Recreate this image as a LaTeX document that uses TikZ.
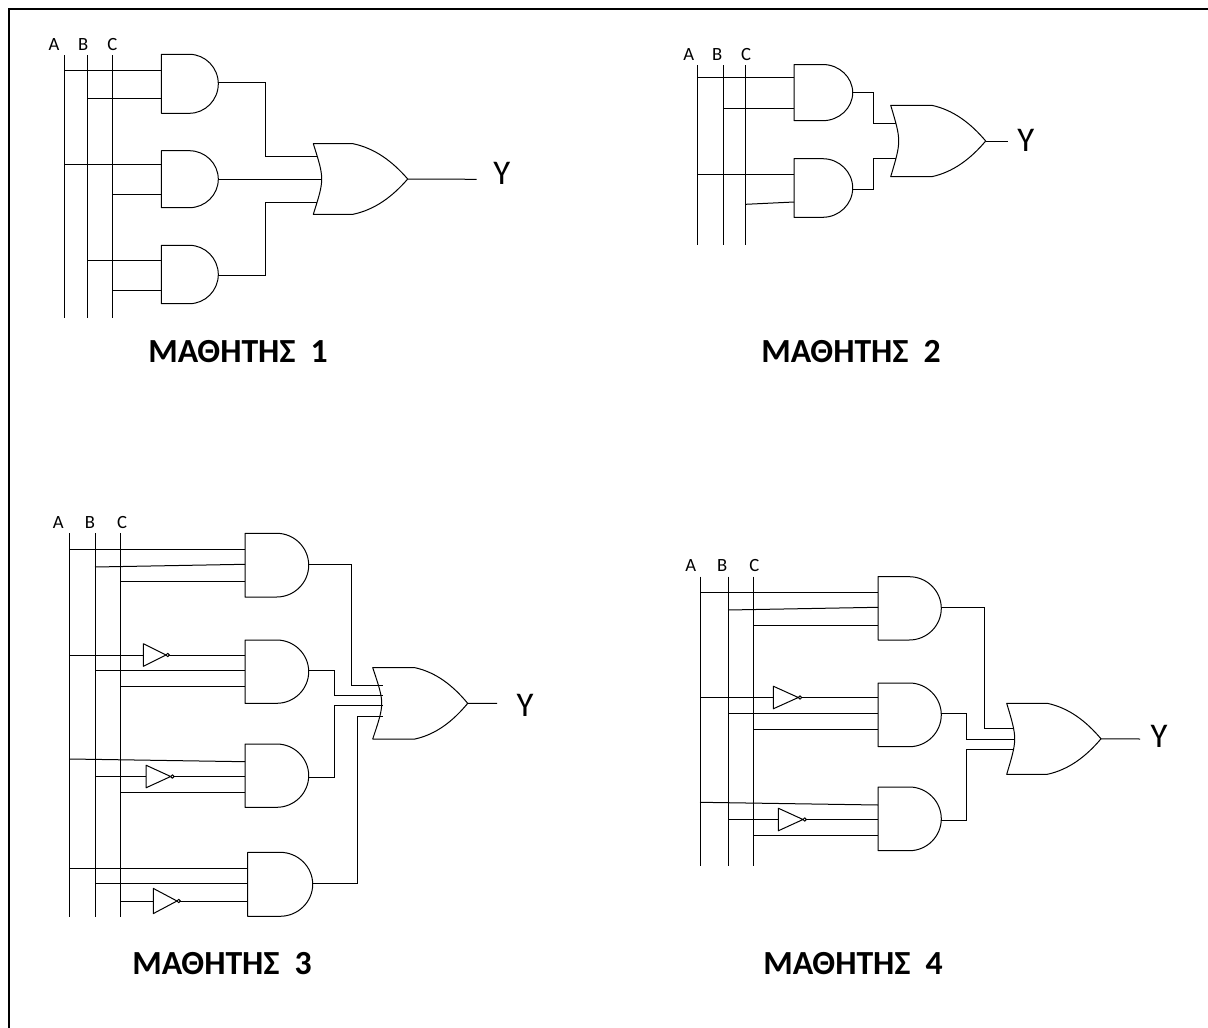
\documentclass[tikz,border=0pt]{standalone}
\usepackage{fontspec}
\setmainfont{Carlito}
\tikzset{
  wire/.style={line width=.75pt,draw=black},
  gate/.style={line width=.75pt,draw=black,fill=white,line join=round},
  buslabel/.style={anchor=base,inner sep=0pt,font=\fontsize{14}{16}\selectfont},
  outlabel/.style={anchor=center,inner sep=0pt,font=\fontsize{26}{30}\selectfont},
  title/.style={anchor=base west,inner sep=0pt,font=\fontsize{25.3}{30}\selectfont\bfseries},
}
\newcommand{\BusLine}[4]{% name,x,top,bottom
  \coordinate (#1-t) at (#2,#3);
  \coordinate (#1-b) at (#2,#4);
  \draw[wire] (#1-t) -- (#1-b);
}
\newcommand{\AndG}[6]{% name,xleft,top,bottom,xarc,xtip
  \pgfmathsetmacro\gM{(#3+#4)/2}
  \pgfmathsetmacro\gA{#5+.55*(#6-#5)}
  \pgfmathsetmacro\gB{\gM-.55*(\gM-#3)}
  \pgfmathsetmacro\gC{\gM+.55*(\gM-#3)}
  \draw[gate] (#2,#3) -- (#5,#3) .. controls (\gA,#3) and (#6,\gB) .. (#6,\gM)
    .. controls (#6,\gC) and (\gA,#4) .. (#5,#4) -- (#2,#4) -- cycle;
  \coordinate (#1-in) at (#2,\gM);
  \coordinate (#1-out) at (#6,\gM);
}
\newcommand{\OrG}[7]{% name,xback,top,bottom,xmid,xstraight,xtip
  \pgfmathsetmacro\gM{(#3+#4)/2}
  \pgfmathsetmacro\gH{(#4-#3)/2}
  \pgfmathsetmacro\gL{#7-#6}
  \pgfmathsetmacro\gC{#2+(#5-#2)/.75}
  \pgfmathsetmacro\gD{#6+.40*\gL}
  \pgfmathsetmacro\gE{#6+.72*\gL}
  \pgfmathsetmacro\gF{#3+.13*\gH}
  \pgfmathsetmacro\gG{#3+.5*\gH}
  \pgfmathsetmacro\gI{#4-.5*\gH}
  \pgfmathsetmacro\gJ{#4-.13*\gH}
  \draw[gate] (#2,#3) -- (#6,#3) .. controls (\gD,\gF) and (\gE,\gG) .. (#7,\gM)
    .. controls (\gE,\gI) and (\gD,\gJ) .. (#6,#4) -- (#2,#4)
    .. controls (\gC,\gM) .. (#2,#3) -- cycle;
  \coordinate (#1-tip) at (#7,\gM);
}
\newcommand{\InvG}[5]{% name,xleft,y,half height,xtip
  \pgfmathsetmacro\gA{#3-#4}
  \pgfmathsetmacro\gB{#3+#4}
  \pgfmathsetmacro\gC{#5+3.4}
  \draw[gate] (#2,\gA) -- (#5,#3) -- (#2,\gB) -- cycle;
  \draw[gate] (#5,#3) arc[start angle=180,end angle=-180,radius=1.7];
  \coordinate (#1-in) at (#2,#3);
  \coordinate (#1-out) at (\gC,#3);
}
\newcommand{\Inp}[4]{\draw[wire] (#1-t |- 0,#3) -- (#2-in |- 0,#4);}
\newcommand{\InvIn}[3]{% bus,inverter,gate
  \draw[wire] (#1-t |- #2-in) -- (#2-in);
  \draw[wire] (#2-out) -- (#3-in |- #2-out);
}
\newcommand{\Outp}[5]{% gate,y out,x jog,y in,or back
  \draw[wire] (#1-out |- 0,#2) -- (#3,#2) -- (#3,#4) -- (#5 |- 0,#4);
}
\begin{document}
\begin{tikzpicture}[x=.75pt,y=-.75pt]
\useasboundingbox (0,0) rectangle (1208,1028);
\draw[line width=1pt] (9,1028) -- (9,9) -- (1208,9);

% --- 1 ---
\node[buslabel] (a1) at (54,50.7) {A};
\node[buslabel] (b1) at (83.3,50.7) {B};
\node[buslabel] (c1) at (112.3,50.7) {C};
\BusLine{A1}{64.7}{55}{318}
\BusLine{B1}{87.3}{55}{318}
\BusLine{C1}{112.7}{55}{318}
\AndG{G11}{161.3}{54.3}{113.3}{189.3}{218.3}
\AndG{G12}{161.3}{150.7}{207.7}{189.3}{218.3}
\AndG{G13}{161.3}{245.3}{303.7}{189.3}{218.3}
\Inp{A1}{G11}{70.3}{70.3}
\Inp{B1}{G11}{98}{98}
\Inp{A1}{G12}{164}{164}
\Inp{C1}{G12}{194.3}{194.3}
\Inp{B1}{G13}{260}{260}
\Inp{C1}{G13}{290.7}{290.7}
\coordinate (O1-back) at (321.7,179.3);
\Outp{G11}{82.3}{265.7}{156.3}{O1-back}
\draw[wire] (G12-out |- 0,179) -- (O1-back |- 0,179);
\Outp{G13}{275.3}{265.7}{202}{O1-back}
\OrG{O1}{313.3}{143.7}{214.3}{321.7}{353}{407.7}
\node[outlabel] (y1) at (501.7,173) {Y};
\coordinate (e1) at (476.7,179.3);
\draw[wire] (O1-tip) -- (e1);
\node[title] (t1) at (148,362.3) {ΜΑΘΗΤΗΣ\ \ 1};

% --- 2 ---
\node[buslabel] (a2) at (688.7,60.7) {A};
\node[buslabel] (b2) at (717.3,60.7) {B};
\node[buslabel] (c2) at (746,60.7) {C};
\BusLine{A2}{697.3}{65}{245}
\BusLine{B2}{723}{65}{245}
\BusLine{C2}{745.7}{65}{245}
\AndG{G21}{794}{64.5}{120.7}{822.7}{852.7}
\AndG{G22}{794}{158.7}{217.3}{822.7}{852.7}
\Inp{A2}{G21}{77.7}{77.7}
\Inp{B2}{G21}{108.3}{108.3}
\Inp{A2}{G22}{174.3}{174.3}
\Inp{C2}{G22}{204.3}{202}
\coordinate (O2-back) at (898.7,141);
\Outp{G21}{92.7}{873}{123.3}{O2-back}
\Outp{G22}{189.3}{873}{158.3}{O2-back}
\OrG{O2}{890.7}{105.3}{176.7}{898.7}{931.7}{985.7}
\node[outlabel] (y2) at (1025.7,140) {Y};
\coordinate (e2) at (1007.7,141);
\draw[wire] (O2-tip) -- (e2);
\node[title] (t2) at (761,362.3) {ΜΑΘΗΤΗΣ\ \ 2};

% --- 3 ---
\node[buslabel] (a3) at (58.3,528.3) {A};
\node[buslabel] (b3) at (90,528.3) {B};
\node[buslabel] (c3) at (122,528.3) {C};
\BusLine{A3}{69.7}{533.3}{916.7}
\BusLine{B3}{95}{533.3}{916.7}
\BusLine{C3}{120.7}{533.3}{916.7}
\AndG{G31}{245}{533.3}{597}{276.7}{308.7}
\AndG{G32}{245}{640}{703.3}{276.7}{308.7}
\AndG{G33}{245}{744}{807.3}{276.7}{308.7}
\AndG{G34}{247.7}{852.3}{916.3}{280}{312.7}
\Inp{A3}{G31}{549.3}{549.3}
\Inp{B3}{G31}{567}{564.3}
\Inp{C3}{G31}{581.7}{581.7}
\InvG{I32}{143.3}{655}{11.3}{166}
\InvIn{A3}{I32}{G32}
\Inp{B3}{G32}{670.7}{670.7}
\Inp{C3}{G32}{686}{686}
\Inp{A3}{G33}{759}{761.7}
\InvG{I33}{146}{776.5}{11.3}{170.7}
\InvIn{B3}{I33}{G33}
\Inp{C3}{G33}{792.3}{792.3}
\Inp{A3}{G34}{868.3}{868.3}
\Inp{B3}{G34}{883.3}{883.3}
\InvG{I34}{153.3}{901}{12.6}{177}
\InvIn{C3}{I34}{G34}
\OrG{O3}{372.7}{667.7}{739}{381.7}{415}{467.7}
\coordinate (O3-back) at (382.7,703.3);
\Outp{G31}{564}{351.7}{685.7}{O3-back}
\Outp{G32}{670.5}{334}{695.7}{O3-back}
\Outp{G33}{777}{334}{705.7}{O3-back}
\Outp{G34}{883.3}{357}{716}{O3-back}
\node[outlabel] (y3) at (525,705.7) {Y};
\coordinate (e3) at (497,703.3);
\draw[wire] (O3-tip) -- (e3);
\node[title] (t3) at (132,974.5) {ΜΑΘΗΤΗΣ\ \ 3};

% --- 4 ---
\node[buslabel] (a4) at (690.7,571.7) {A};
\node[buslabel] (b4) at (722.3,571.7) {B};
\node[buslabel] (c4) at (754.3,571.7) {C};
\BusLine{A4}{700}{576.7}{865.7}
\BusLine{B4}{728}{576.7}{865.7}
\BusLine{C4}{753.3}{576.7}{865.7}
\AndG{G41}{878}{576.7}{640}{909.3}{941.3}
\AndG{G42}{878}{683}{746.7}{909.3}{941.3}
\AndG{G43}{878}{787}{850.7}{909.3}{941.3}
\Inp{A4}{G41}{592}{592}
\Inp{B4}{G41}{610}{607.3}
\Inp{C4}{G41}{625}{625}
\InvG{I42}{773.3}{697.5}{11.3}{798.3}
\InvIn{A4}{I42}{G42}
\Inp{B4}{G42}{713.7}{713.7}
\Inp{C4}{G42}{729}{729}
\Inp{A4}{G43}{802.3}{805}
\InvG{I43}{778.3}{819.5}{11.3}{803}
\InvIn{B4}{I43}{G43}
\Inp{C4}{G43}{835.3}{835.3}
\coordinate (O4-back) at (1014.7,739);
\Outp{G41}{607}{984.7}{728.3}{O4-back}
\Outp{G42}{713.7}{966.7}{739}{O4-back}
\Outp{G43}{820}{966.7}{749.3}{O4-back}
\OrG{O4}{1006.7}{703.3}{774.3}{1014.7}{1047.3}{1101}
\node[outlabel] (y4) at (1159,736.7) {Y};
\coordinate (e4) at (1140,739);
\draw[wire] (O4-tip) -- (e4);
\node[title] (t4) at (763,974.5) {ΜΑΘΗΤΗΣ\ \ 4};
\end{tikzpicture}
\end{document}
